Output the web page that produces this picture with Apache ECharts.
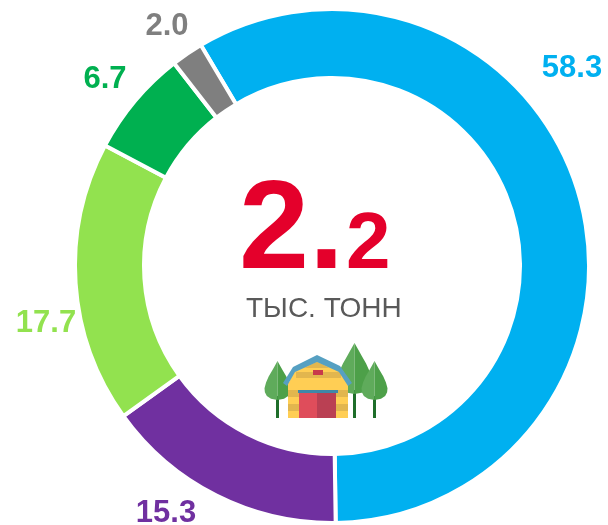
<!DOCTYPE html>
<html><head><meta charset="utf-8">
<style>html,body{margin:0;padding:0;background:#fff}#c{width:608px;height:525px}</style>
<script src="https://cdn.jsdelivr.net/npm/echarts@6/dist/echarts.min.js"></script>
</head><body><div id="c"></div>
<script>
const categories = ['A','B','C','D','E'];
const values = [58.3, 15.3, 17.7, 6.7, 2.0];
const colors = ['#00B0F0','#7030A0','#92E24F','#00B050','#7F7F7F'];
const labelPos = [[572,68],[166,513],[46,323],[105,79],[167,26]];
const font = '"Liberation Sans", Arial, sans-serif';
const chart = echarts.init(document.getElementById('c'), null, {renderer:'canvas'});

function P(points, fill){ return {type:'polygon', shape:{points}, style:{fill}, silent:true}; }
function R(x,y,width,height,fill){ return {type:'rect', shape:{x,y,width,height}, style:{fill}, silent:true}; }
function half(cx, top, bottom, w, s){
  const h = bottom-top, rows = [[0,0],[.12,.2],[.25,.42],[.4,.68],[.55,.88],[.7,1],[.8,.97],[.9,.82],[.97,.5],[1,0]];
  return rows.map(r=>[cx+s*w*r[1], top+h*r[0]]);
}
function tree(cx, top, bottom, w, trunkBottom, trunkW){
  return [R(cx-trunkW/2,bottom-4,trunkW,trunkBottom-bottom+4,'#1F6E2A'),
    P(half(cx,top,bottom,w,-1),'#5FAB5B'), P(half(cx,top,bottom,w,1),'#4DA049')];
}
const icon = [
  ...tree(354.5,343,394,17,418,3),
  ...tree(277.5,361,400,13,418,3),
];
const barn = [
  R(288,382,60,36,'#FFCE54'),
  P([[288,385],[294,371],[317,361],[343,371],[348,385]],'#FFCE54'),
  R(296,372,45,6,'#E2B64E'),
  R(288,390,60,7,'#E2B64E'),
  R(288,404,60,7,'#E2B64E'),
  P([[312,364],[317,362],[322,364],[329,368],[305,368]],'#E2B64E'),
  P([[283,383],[293,367],[317,355],[340,366],[352,383],[348,386],[339,372],[317,362],[295,372],[287,386]],'#56A0C2'),
  R(313,370,10,5,'#C8394B'),
  R(299,393,18,25,'#DF4D5B'),
  R(317,393,19,25,'#BA4053'),
  R(298,390,40,3,'#3F88A8')
];
const tree3 = tree(374.5,361,400,13,418,3);

chart.setOption({
  animation:false,
  backgroundColor:'#fff',
  series:[{
    type:'pie',
    center:[332,266],
    radius:[188,257],
    startAngle:120.7,
    clockwise:true,
    silent:true,
    avoidLabelOverlap:false,
    itemStyle:{borderColor:'#fff',borderWidth:4},
    label:{show:true,position:'outside',fontFamily:font,fontWeight:'bold',fontSize:31,
      formatter:p=>p.value.toFixed(1)},
    labelLine:{show:false},
    labelLayout:p=>({x:labelPos[p.dataIndex][0],y:labelPos[p.dataIndex][1],align:'center',verticalAlign:'middle'}),
    data:values.map((v,i)=>({name:categories[i],value:v,itemStyle:{color:colors[i]},label:{color:colors[i]}}))
  }],
  graphic:[
    {type:'text',left:239,top:170,silent:true,style:{text:'2.',fontFamily:font,fontWeight:'bold',fontSize:126,fill:'#E4002B'}},
    {type:'text',left:346,top:206,silent:true,style:{text:'2',fontFamily:font,fontWeight:'bold',fontSize:80,fill:'#E4002B'}},
    {type:'text',left:246,top:295,silent:true,style:{text:'ТЫС. ТОНН',fontFamily:font,fontSize:28,fill:'#595959'}},
    ...icon, ...barn, ...tree3
  ]
});
</script></body></html>
